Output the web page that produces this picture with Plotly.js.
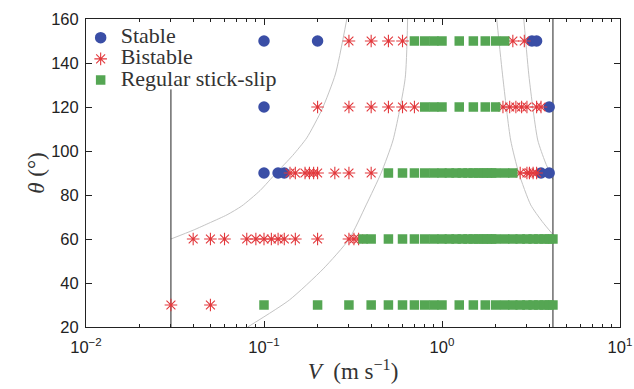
<!DOCTYPE html>
<html><head><meta charset="utf-8">
<script src="https://cdn.plot.ly/plotly-3.0.1.min.js"></script>
<style>html,body{margin:0;padding:0;background:#fff}#chart{width:634px;height:389px}</style>
</head><body><div id="chart"></div>
<script>
// ---- data ----
const xTickVals = [0.01, 0.1, 1, 10];
const xTickText = ['10<sup>−2</sup>', '10<sup>−1</sup>', '10<sup>0</sup>', '10<sup>1</sup>'];
const yTickVals = [20, 40, 60, 80, 100, 120, 140, 160];
const seriesNames = ['Stable', 'Bistable', 'Regular stick-slip'];

// Stable (blue circles)
const stableV     = [0.1, 0.2, 3.2, 3.4,   0.1, 4.0,   0.1, 0.12, 0.13, 3.6, 4.0];
const stableTheta = [150, 150, 150, 150,   120, 120,   90, 90, 90, 90, 90];

// Bistable (red asterisks)
const bistableV = [
  0.3, 0.4, 0.5, 0.6, 2.5, 2.9,
  0.2, 0.3, 0.4, 0.5, 0.6, 0.7, 2.2, 2.4, 2.6, 2.8, 3.0, 3.4, 3.6,
  0.14, 0.15, 0.17, 0.18, 0.19, 0.2, 0.25, 0.3, 0.4, 2.75, 3.0, 3.1, 3.25, 3.4,
  0.04, 0.05, 0.06, 0.08, 0.09, 0.1, 0.11, 0.12, 0.13, 0.15, 0.2, 0.3, 0.32, 0.34,
  0.03, 0.05
];
const bistableTheta = [
  150, 150, 150, 150, 150, 150,
  120, 120, 120, 120, 120, 120, 120, 120, 120, 120, 120, 120, 120,
  90, 90, 90, 90, 90, 90, 90, 90, 90, 90, 90, 90, 90, 90,
  60, 60, 60, 60, 60, 60, 60, 60, 60, 60, 60, 60, 60, 60,
  30, 30
];

// Regular stick-slip (green squares)
const regularV = [
  0.7, 0.8, 0.9, 1.0, 1.25, 1.5, 1.75, 2.0, 2.25,
  0.8, 0.9, 1.0, 1.25, 1.5, 1.75, 2.0,
  0.5, 0.6, 0.7, 0.8, 0.9, 1.0, 1.1, 1.2, 1.3, 1.4, 1.5, 1.6, 1.7, 1.8, 1.9, 2.0, 2.25, 2.5,
  0.36, 0.4, 0.5, 0.6, 0.7, 0.8, 0.9, 1.0, 1.1, 1.2, 1.3, 1.4, 1.5, 1.6, 1.7, 1.8, 1.9, 2.0, 2.25, 2.5, 2.75, 3.0, 3.25, 3.5, 3.75, 4.0, 4.2,
  0.1, 0.2, 0.3, 0.4, 0.5, 0.6, 0.7, 0.8, 0.9, 1.0, 1.25, 1.5, 1.75, 2.0, 2.25, 2.5, 2.75, 3.0, 3.25, 3.5, 3.75, 4.0, 4.2
];
const regularTheta = [
  150, 150, 150, 150, 150, 150, 150, 150, 150,
  120, 120, 120, 120, 120, 120, 120,
  90, 90, 90, 90, 90, 90, 90, 90, 90, 90, 90, 90, 90, 90, 90, 90, 90, 90,
  60, 60, 60, 60, 60, 60, 60, 60, 60, 60, 60, 60, 60, 60, 60, 60, 60, 60, 60, 60, 60, 60, 60, 60, 60, 60, 60,
  30, 30, 30, 30, 30, 30, 30, 30, 30, 30, 30, 30, 30, 30, 30, 30, 30, 30, 30, 30, 30, 30, 30
];

// Vertical boundary lines: V value and the theta span visible in the reference
const boundaryV = [0.03, 4.2];
const boundaryThetaTop = [128, 160];
const thetaRange = [20, 160];

// Gray boundary curves
const curveAV = [0.030, 0.040, 0.050, 0.062, 0.075, 0.095, 0.117, 0.145, 0.174, 0.212, 0.252, 0.292];
const curveATheta = [60, 64, 67.5, 71, 75, 82, 90, 98, 106, 119, 135, 160];
const curveBV = [0.081, 0.139, 0.215, 0.301, 0.375, 0.455, 0.531, 0.621, 0.641];
const curveBTheta = [20, 32.3, 46.4, 60, 75.5, 90, 105, 133, 160];
const curveCV = [2.03, 2.2, 2.43, 2.70, 3.15, 3.65, 4.2];
const curveCTheta = [160, 133, 105, 90, 75.5, 68, 62];
const curveDV = [2.88, 3.09, 3.45, 3.8, 4.2];
const curveDTheta = [160, 133, 105, 95, 87];

// ---- traces ----
const grayLine = {color: '#c4c4c4', width: 1, shape: 'spline', smoothing: 0.6};
const traces = [];
[[curveAV, curveATheta], [curveBV, curveBTheta], [curveCV, curveCTheta], [curveDV, curveDTheta]].forEach(c => {
  traces.push({x: c[0], y: c[1], mode: 'lines', line: grayLine, showlegend: false, hoverinfo: 'skip'});
});
boundaryV.forEach((v, i) => {
  traces.push({x: [v, v], y: [thetaRange[0], boundaryThetaTop[i]], mode: 'lines', line: {color: '#222', width: 1}, showlegend: false, hoverinfo: 'skip'});
});
const big = s => '<span style="font-size:22px">' + s + '</span>';
traces.push({
  x: stableV, y: stableTheta, mode: 'markers', name: big(seriesNames[0]),
  marker: {symbol: 'circle', size: 11.5, color: '#3a4ea6'}
});
traces.push({
  x: bistableV, y: bistableTheta, mode: 'markers', name: big(seriesNames[1]),
  marker: {symbol: 'asterisk-open', size: 10.5, color: '#e2383c', line: {color: '#e2383c', width: 1.1}}
});
traces.push({
  x: regularV, y: regularTheta, mode: 'markers', name: big(seriesNames[2]),
  marker: {symbol: 'square', size: 9.5, color: '#55a653'}
});

const tickFont = {family: 'Liberation Sans, Arial, sans-serif', size: 16.5, color: '#222'};
const layout = {
  width: 634, height: 389,
  margin: {l: 86, r: 14, t: 19, b: 62},
  paper_bgcolor: '#fff', plot_bgcolor: '#fff',
  showlegend: true,
  legend: {
    x: -0.01, y: 0.99, xanchor: 'left', yanchor: 'top',
    bgcolor: 'rgba(255,255,255,0)', borderwidth: 0,
    font: {family: 'Liberation Serif, DejaVu Serif, serif', size: 14, color: '#333'},
    tracegroupgap: 0, itemwidth: 30
  },
  xaxis: {
    type: 'log', range: [-2, 1],
    tickmode: 'array', tickvals: xTickVals, ticktext: xTickText,
    ticks: 'inside', ticklen: 6, tickcolor: '#222',
    minor: {dtick: 'D1', ticks: 'inside', ticklen: 3, tickcolor: '#222', showgrid: false},
    showline: true, linecolor: '#222', linewidth: 1, mirror: 'ticks',
    showgrid: false, zeroline: false,
    tickfont: tickFont, ticklabelstandoff: 5,
    title: {text: '<i>V</i>  (m s<sup>−1</sup>)', font: {family: 'Liberation Serif, DejaVu Serif, serif', size: 23, color: '#333'}, standoff: 8}
  },
  yaxis: {
    range: thetaRange, tickmode: 'array', tickvals: yTickVals,
    ticks: 'inside', ticklen: 6, tickcolor: '#222',
    showline: true, linecolor: '#222', linewidth: 1, mirror: 'ticks',
    showgrid: false, zeroline: false,
    tickfont: tickFont, ticklabelstandoff: 3,
    title: {text: '<i>θ</i> (°)', font: {family: 'Liberation Serif, DejaVu Serif, serif', size: 23, color: '#333'}, standoff: 0}
  },
  hovermode: false
};
Plotly.newPlot('chart', traces, layout, {displayModeBar: false, staticPlot: true});
</script>
</body></html>
